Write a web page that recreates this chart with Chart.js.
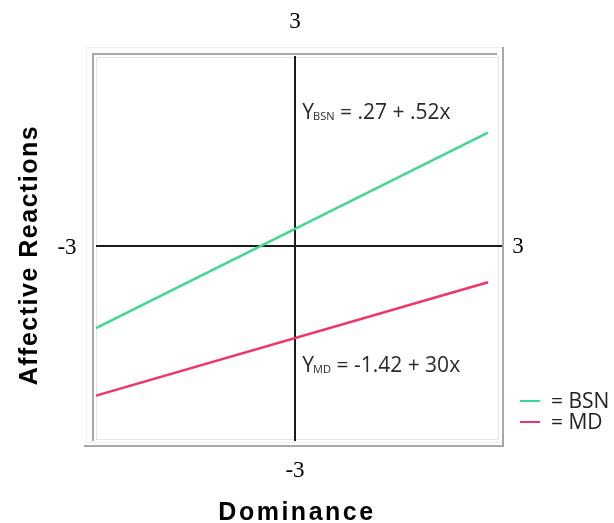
<!DOCTYPE html>
<html>
<head>
<meta charset="utf-8">
<script src="https://cdn.jsdelivr.net/npm/chart.js@4.4.0/dist/chart.umd.min.js"></script>
<style>
  html, body { margin: 0; padding: 0; background: #fff; }
  canvas { display: block; }
</style>
</head>
<body>
<canvas id="dominanceChart" width="614" height="523"></canvas>
<script>
// Values (x = Dominance, y = Affective Reactions)
const seriesNames = ['BSN', 'MD'];
const bsnX = [-2.97, 2.88];
const bsnY = [-1.29, 1.78];
const mdX = [-2.97, 2.88];
const mdY = [-2.35, -0.57];
const equations = [
    { sub: 'BSN', text: ' = .27 + .52x', at: [0.11, 2.0] },
    { sub: 'MD', text: ' = -1.42 + 30x', at: [0.11, -1.98] }
];
const axisMin = -3;
const axisMax = 3;
const xTitle = 'Dominance';
const yTitle = 'Affective Reactions';

function toPoints(xs, ys) {
    return xs.map((x, i) => ({ x: x, y: ys[i] }));
}

// Draws the frame, the cross through zero, tick numbers, equations and legend
const decorations = {
    id: 'decorations',
    beforeDatasetsDraw(chart) {
        const ctx = chart.ctx;
        const ca = chart.chartArea;
        const xs = chart.scales.x;
        const ys = chart.scales.y;
        ctx.save();

        // frame
        ctx.strokeStyle = '#f0f0f0';
        ctx.lineWidth = 1;
        ctx.strokeRect(ca.left - 7.5, ca.top - 7.5, ca.right - ca.left + 14, ca.bottom - ca.top + 13);
        ctx.strokeStyle = '#a8a8a8';
        ctx.lineWidth = 2;
        ctx.beginPath();
        ctx.moveTo(ca.left - 1, ca.bottom + 4);
        ctx.lineTo(ca.left - 1, ca.top - 1);
        ctx.lineTo(ca.right + 1, ca.top - 1);
        ctx.stroke();
        ctx.beginPath();
        ctx.moveTo(ca.right + 7, ca.top - 8);
        ctx.lineTo(ca.right + 7, ca.bottom + 9);
        ctx.lineTo(ca.left - 10, ca.bottom + 9);
        ctx.stroke();
        ctx.strokeStyle = '#e4e4e4';
        ctx.lineWidth = 1;
        ctx.strokeRect(ca.left + 2.5, ca.top + 2.5, ca.right - ca.left, ca.bottom - ca.top);

        // cross through the origin
        const x0 = xs.getPixelForValue(0);
        const y0 = ys.getPixelForValue(0);
        ctx.strokeStyle = '#1a1a1a';
        ctx.lineWidth = 2;
        ctx.beginPath();
        ctx.moveTo(ca.left + 2, y0);
        ctx.lineTo(ca.right + 6, y0);
        ctx.moveTo(x0, ca.top + 1);
        ctx.lineTo(x0, ca.bottom + 4);
        ctx.stroke();

        // tick numbers
        ctx.fillStyle = '#000';
        ctx.font = '23px "Liberation Serif"';
        ctx.textAlign = 'center';
        ctx.textBaseline = 'middle';
        ctx.fillText(String(axisMax), x0, ca.top - 33);
        ctx.fillText(String(axisMin), x0, ca.bottom + 34);
        ctx.fillText(String(axisMin), ca.left - 27, y0 + 2);
        ctx.fillText(String(axisMax), ca.right + 22, y0 + 1);

        // axis titles
        ctx.font = 'bold 25px "Liberation Sans"';
        ctx.letterSpacing = '2.5px';
        ctx.fillText(xTitle, x0 + 2, ca.bottom + 76);
        ctx.letterSpacing = '1.5px';
        ctx.save();
        ctx.translate(ca.left - 64, y0 + 9);
        ctx.rotate(-Math.PI / 2);
        ctx.fillText(yTitle, 0, 0);
        ctx.restore();
        ctx.letterSpacing = '0px';

        // equations
        ctx.textAlign = 'left';
        ctx.textBaseline = 'alphabetic';
        ctx.fillStyle = '#2a2a2a';
        equations.forEach(eq => {
            let px = xs.getPixelForValue(eq.at[0]);
            const py = ys.getPixelForValue(eq.at[1]);
            ctx.font = '21px "Open Sans"';
            ctx.fillText('Y', px, py);
            px += ctx.measureText('Y').width - 1;
            ctx.font = '11px "Open Sans"';
            ctx.fillText(eq.sub, px, py + 1);
            px += ctx.measureText(eq.sub).width;
            ctx.font = '21px "Open Sans"';
            ctx.fillText(eq.text, px, py);
        });

        // legend
        chart.data.datasets.forEach((ds, i) => {
            const ly = ca.bottom - 36 + i * 21;
            ctx.strokeStyle = ds.borderColor;
            ctx.lineWidth = 2;
            ctx.beginPath();
            ctx.moveTo(ca.right + 24, ly);
            ctx.lineTo(ca.right + 44, ly);
            ctx.stroke();
            ctx.fillStyle = '#222';
            ctx.font = '21px "Open Sans"';
            ctx.textBaseline = 'middle';
            ctx.fillText('= ' + ds.label, ca.right + 55, ly + 1);
            ctx.textBaseline = 'alphabetic';
        });

        ctx.restore();
    }
};

const ctx = document.getElementById('dominanceChart').getContext('2d');

new Chart(ctx, {
    type: 'scatter',
    data: {
        datasets: [
            {
                label: seriesNames[0],
                data: toPoints(bsnX, bsnY),
                borderColor: '#3fd892',
                showLine: true,
                borderWidth: 2.5,
                pointRadius: 0,
                fill: false
            },
            {
                label: seriesNames[1],
                data: toPoints(mdX, mdY),
                borderColor: '#f23366',
                showLine: true,
                borderWidth: 2.5,
                pointRadius: 0,
                fill: false
            }
        ]
    },
    options: {
        responsive: false,
        animation: false,
        layout: { padding: { left: 94, right: 118, top: 55, bottom: 86 } },
        plugins: {
            legend: { display: false },
            tooltip: { enabled: false }
        },
        scales: {
            x: { type: 'linear', min: axisMin, max: axisMax, display: false },
            y: { type: 'linear', min: axisMin, max: axisMax, display: false }
        }
    },
    plugins: [decorations]
});
</script>
</body>
</html>
